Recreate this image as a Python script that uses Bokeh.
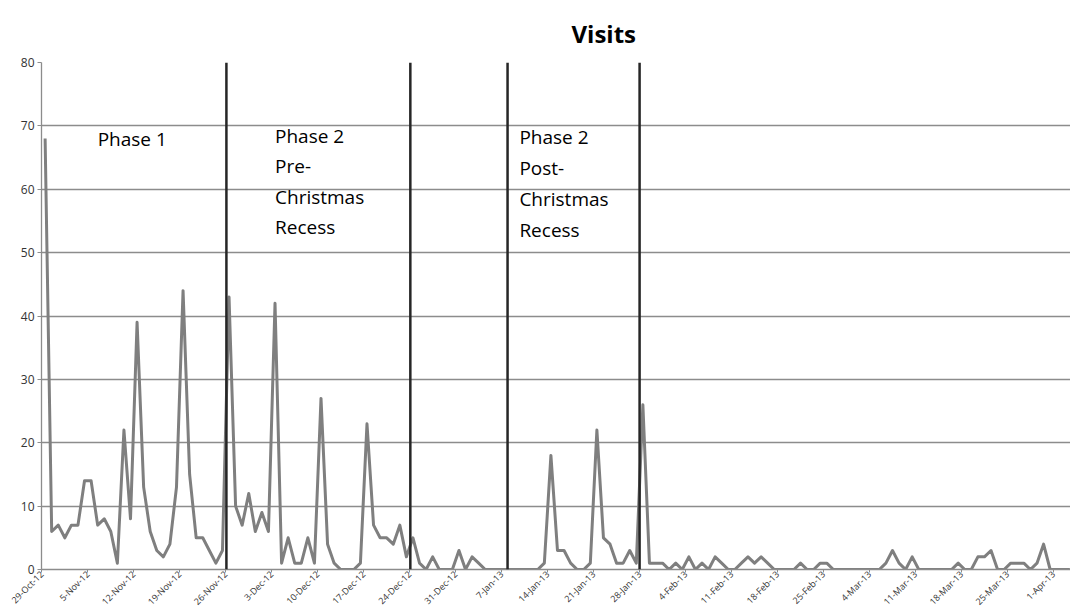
import math
from bokeh.plotting import figure
from bokeh.models import Span, FixedTicker
from bokeh.core.properties import value
from bokeh.embed import file_html
from bokeh.resources import INLINE

# ---- data -------------------------------------------------------------
tick_labels = ["29-Oct-12", "5-Nov-12", "12-Nov-12", "19-Nov-12", "26-Nov-12",
               "3-Dec-12", "10-Dec-12", "17-Dec-12", "24-Dec-12", "31-Dec-12",
               "7-Jan-13", "14-Jan-13", "21-Jan-13", "28-Jan-13", "4-Feb-13",
               "11-Feb-13", "18-Feb-13", "25-Feb-13", "4-Mar-13", "11-Mar-13",
               "18-Mar-13", "25-Mar-13", "1-Apr-13"]

visits_phase1 = [68, 6, 7, 5, 7, 7, 14, 14, 7, 8, 6, 1, 22, 8, 39, 13, 6, 3, 2, 4,
                 13, 44, 15, 5, 5, 3, 1, 3]
visits_phase2_pre = [43, 10, 7, 12, 6, 9, 6, 42, 1, 5, 1, 1, 5, 1, 27, 4, 1, 0, 0, 0,
                     1, 23, 7, 5, 5, 4, 7, 2]
visits_recess = [5, 1, 0, 2, 0, 0, 0, 3, 0, 2, 1, 0, 0, 0, 0]
visits_phase2_post = [0, 0, 0, 0, 0, 1, 18, 3, 3, 1, 0, 0, 1, 22, 5, 4, 1, 1, 3, 1]
visits_after = [26, 1, 1, 1, 0, 1, 0, 2, 0, 1, 0, 2, 1, 0, 0, 1, 2, 1, 2, 1,
                0, 0, 0, 0, 1, 0, 0, 1, 1, 0, 0, 0, 0, 0, 0, 0, 0, 1, 3, 1,
                0, 2, 0, 0, 0, 0, 0, 0, 1, 0, 0, 2, 2, 3, 0, 0, 1, 1, 1, 0,
                1, 4, 0, 0, 0, 0]

visits = visits_phase1 + visits_phase2_pre + visits_recess + visits_phase2_post + visits_after
days = list(range(len(visits)))

# phase boundaries (in day units)
phase_bounds = [27.6, 55.6, 70.4, 90.5]

y_ticks = [0, 10, 20, 30, 40, 50, 60, 70, 80]

# ---- figure -----------------------------------------------------------
p = figure(width=1070, height=615, output_backend="svg", toolbar_location=None,
           x_range=(-0.55, 156.1), y_range=(0, 80),
           min_border_left=41, min_border_right=0, min_border_top=62,
           title="Visits")
p.outline_line_color = None
p.background_fill_color = "white"
p.border_fill_color = "white"

p.title.align = "left"
p.title.offset = 530
p.title.text_font = "Open Sans"
p.title.text_font_size = "24px"
p.title.text_font_style = "bold"
p.title.text_color = "#000000"
p.title.standoff = 26

p.xgrid.grid_line_color = None
p.ygrid.grid_line_color = "#8c8c8c"
p.ygrid.grid_line_width = 1.3

p.yaxis.ticker = FixedTicker(ticks=y_ticks)
p.yaxis.axis_line_color = "#8c8c8c"
p.yaxis.axis_line_width = 1.3
p.yaxis.major_tick_line_color = "#8c8c8c"
p.yaxis.major_tick_out = 4
p.yaxis.major_tick_in = 0
p.yaxis.minor_tick_line_color = None
p.yaxis.major_label_text_font = "Open Sans"
p.yaxis.major_label_text_font_size = "12px"
p.yaxis.major_label_text_color = "#333333"
p.yaxis.major_label_standoff = 3

tick_pos = [7 * i - 0.5 for i in range(len(tick_labels))]
p.xaxis.ticker = FixedTicker(ticks=tick_pos)
p.xaxis.major_label_overrides = {t: lbl for t, lbl in zip(tick_pos, tick_labels)}
p.xaxis.major_label_orientation = math.pi / 4
p.xaxis.axis_line_color = "#8c8c8c"
p.xaxis.axis_line_width = 1.3
p.xaxis.major_tick_line_color = "#8c8c8c"
p.xaxis.major_tick_out = 3
p.xaxis.major_tick_in = 0
p.xaxis.minor_tick_line_color = None
p.xaxis.major_label_text_font = "Open Sans"
p.xaxis.major_label_text_font_size = "9px"
p.xaxis.major_label_text_color = "#333333"
p.xaxis.major_label_standoff = 0

p.line(days, visits, line_color="#7f7f7f", line_width=3, line_join="round")

for b in phase_bounds:
    p.add_layout(Span(location=b, dimension="height", line_color="#262626", line_width=2.5))

# ---- phase annotations --------------------------------------------------
ann_x = [8.0, 35.0, 35.0, 35.0, 35.0, 72.2, 72.2, 72.2, 72.2]
ann_y = [68.0, 68.4, 63.6, 58.8, 54.0, 68.3, 63.4, 58.5, 53.6]
ann_text = ["Phase 1", "Phase 2", "Pre-", "Christmas", "Recess",
            "Phase 2", "Post-", "Christmas", "Recess"]
p.text(x=ann_x, y=ann_y, text=ann_text, text_font=value("Open Sans"),
       text_font_size="19px", text_baseline="middle", text_align="left",
       text_color="#000000")

open("out.html", "w").write(file_html(p, INLINE))
